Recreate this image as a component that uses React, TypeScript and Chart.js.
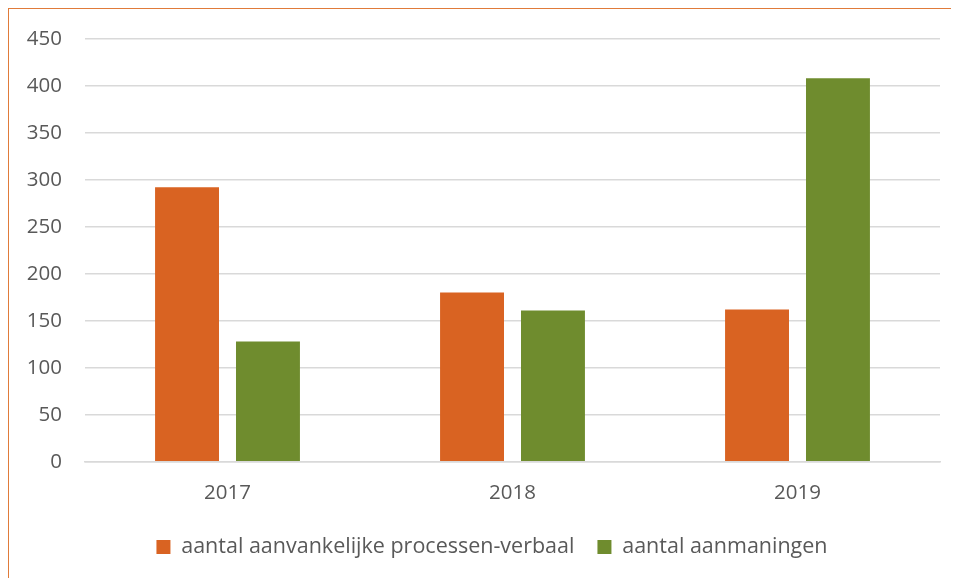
import React, { useEffect, useRef } from "react";
import { Chart, registerables } from "chart.js";

Chart.register(...registerables);

const categories = ["2017", "2018", "2019"];
const processenVerbaal = [292, 180, 162];
const aanmaningen = [128, 161, 408];
const seriesLabels = ["aantal aanvankelijke processen-verbaal", "aantal aanmaningen"];
const yTicks = [0, 50, 100, 150, 200, 250, 300, 350, 400, 450];

const FONT = "'Open Sans', 'DejaVu Sans', sans-serif";

export default function App() {
  const ref = useRef<HTMLCanvasElement | null>(null);
  useEffect(() => {
    if (!ref.current) return;
    const chart = new Chart(ref.current, {
      type: "bar",
      data: {
        labels: categories,
        datasets: [
          {
            label: seriesLabels[0],
            data: processenVerbaal,
            backgroundColor: "#D96322",
            borderWidth: 0,
            categoryPercentage: 0.568,
            barPercentage: 0.79,
          },
          {
            label: seriesLabels[1],
            data: aanmaningen,
            backgroundColor: "#6F8C2E",
            borderWidth: 0,
            categoryPercentage: 0.568,
            barPercentage: 0.79,
          },
        ],
      },
      options: {
        animation: false,
        responsive: false,
        maintainAspectRatio: false,
        layout: { padding: { left: 16, right: 0, top: 29.7, bottom: 10.25 } },
        plugins: {
          tooltip: { enabled: false },
          legend: {
            position: "bottom",
            labels: {
              boxWidth: 14,
              boxHeight: 14,
              padding: 23,
              color: "#595959",
              font: { family: FONT, size: 21.5 },
            },
          },
        },
        scales: {
          x: {
            grid: { display: false, drawTicks: false },
            border: { display: true, color: "#d9d9d9", width: 1.5 },
            ticks: { color: "#595959", font: { family: FONT, size: 20.5 }, padding: 19 },
            afterFit: (scale: any) => {
              scale.height = 51.5;
            },
          },
          y: {
            min: 0,
            max: 450,
            afterBuildTicks: (scale: any) => {
              scale.ticks = yTicks.map((v) => ({ value: v }));
            },
            grid: { color: "#d9d9d9", lineWidth: 1.4, drawTicks: false },
            border: { display: false },
            ticks: { color: "#595959", font: { family: FONT, size: 20.5 }, padding: 23 },
            afterFit: (scale: any) => {
              scale.width = 60;
              scale.paddingTop = 0;
              scale.paddingBottom = 0;
            },
          },
          yRight: {
            type: "linear",
            position: "right",
            display: true,
            grid: { display: false, drawTicks: false },
            border: { display: false },
            ticks: { display: false },
            afterFit: (scale: any) => {
              scale.width = 19;
              scale.paddingTop = 0;
              scale.paddingBottom = 0;
            },
          },
        },
      },
    });
    return () => chart.destroy();
  }, []);
  return (
    <div
      style={{
        position: "relative",
        width: 951,
        height: 570,
        boxSizing: "border-box",
        borderLeft: "1px solid #E07B3A",
        borderTop: "1px solid #E07B3A",
        overflow: "hidden",
      }}
    >
      <canvas ref={ref} width={950} height={569} style={{ display: "block" }} />
    </div>
  );
}
